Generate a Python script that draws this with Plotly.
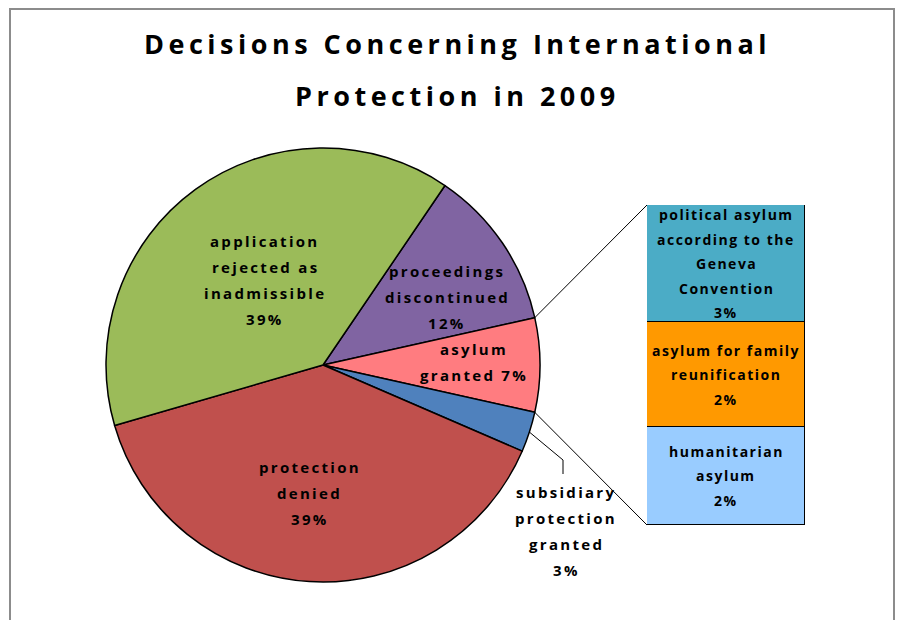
import math
import plotly.graph_objects as go

W, H = 906, 620

# ---------------- data ----------------
title_lines = ["Decisions Concerning International", "Protection in 2009"]

pie_labels = ["proceedings discontinued", "asylum granted", "subsidiary protection granted",
              "protection denied", "application rejected as inadmissible"]
pie_values = [12, 7, 3, 39, 39]
pie_text = [["proceedings", "discontinued", "12%"],
            ["asylum", "granted 7%"],
            ["subsidiary", "protection", "granted", "3%"],
            ["protection", "denied", "39%"],
            ["application", "rejected as", "inadmissible", "39%"]]
pie_colors = ["#8064A2", "#FF7C80", "#4F81BD", "#C0504D", "#9BBB59"]
split_index = 1  # the pie slice broken out into the bar

bar_labels = ["humanitarian asylum", "asylum for family reunification",
              "political asylum according to the Geneva Convention"]
bar_values = [2.15, 2.28, 2.57]
bar_text = [["humanitarian", "asylum", "2%"],
            ["asylum for family", "reunification", "2%"],
            ["political asylum", "according to the", "Geneva", "Convention", "3%"]]
bar_colors = ["#99CCFF", "#FF9900", "#4BACC6"]

# ---------------- layout geometry (pixels in the screenshot) ----------------
OFF = 8  # page body margin
cx, cy, R = 323, 365, 217
bar_l, bar_r, bar_t, bar_b = 647, 805, 205, 525
# label anchors inside pie: (standard angle deg, fraction of radius)
label_polar = {0: (28.7, 0.652), 1: (1.1, 0.696), 3: (264.2, 0.593), 4: (124.3, 0.474)}
outside_label = {2: (566, 531)}
leader_elbow = (563, 460)
leader_end_y = 474

FONT = "Open Sans"


def px(x, y):
    return (x - OFF) / W, 1 - (y - OFF) / H


total = sum(pie_values)
before = sum(pie_values[:split_index])
rotation = 90 - (before + pie_values[split_index] / 2) / total * 360


def slice_start(i):
    return rotation + sum(pie_values[:i]) / total * 360


def edge_point(theta_deg, frac=1.0):
    t = math.radians(theta_deg)
    return cx + frac * R * math.sin(t), cy - frac * R * math.cos(t)


fig = go.Figure()

dx0, dy0 = px(cx - R, cy + R)
dx1, dy1 = px(cx + R, cy - R)
fig.add_trace(go.Pie(
    labels=pie_labels, values=pie_values, sort=False, direction="clockwise",
    rotation=rotation, textinfo="none", hoverinfo="label+percent",
    marker=dict(colors=pie_colors, line=dict(color="black", width=1.5)),
    domain=dict(x=[dx0, dx1], y=[dy0, dy1]),
    showlegend=False,
))

for v, c, lab in zip(bar_values, bar_colors, bar_labels):
    fig.add_trace(go.Bar(
        x=[0], y=[v], width=1, name=lab, marker=dict(color=c, line=dict(color="black", width=1.5)),
        showlegend=False, hoverinfo="name",
    ))

annotations = []


def add_lines(x, y, xref, yref, lines, size, gap, spacing):
    n = len(lines)
    for i, ln in enumerate(lines):
        annotations.append(dict(
            x=x, y=y, xref=xref, yref=yref,
            text=f'<span style="letter-spacing:{spacing}px">{ln}</span>', showarrow=False,
            xanchor="center", yanchor="middle", yshift=-(i - (n - 1) / 2) * gap,
            font=dict(family=FONT, size=size, color="black", weight="bold"),
        ))


# title
tx, ty = px(457, 70)
add_lines(tx, ty, "paper", "paper", title_lines, 27, 52, 4.5)

# pie labels
for i, lines in enumerate(pie_text):
    if i in label_polar:
        a, f = label_polar[i]
        x = cx + f * R * math.cos(math.radians(a))
        y = cy - f * R * math.sin(math.radians(a))
    else:
        x, y = outside_label[i]
    lx, ly = px(x, y)
    add_lines(lx, ly, "paper", "paper", lines, 15, 26.3, 2.3)

# bar labels
cum = 0
for v, lines in zip(bar_values, bar_text):
    add_lines(0, cum + v / 2, "x", "y", lines, 14, 24.6, 1.5)
    cum += v

shapes = []
# connector lines from split slice to bar
t1 = slice_start(split_index)
t2 = slice_start(split_index + 1)
p1 = edge_point(t1)
p2 = edge_point(t2)
for (x0, y0), (x1, y1) in [(p1, (bar_l, bar_t)), (p2, (bar_l, bar_b))]:
    a0, b0 = px(x0, y0)
    a1, b1 = px(x1, y1)
    shapes.append(dict(type="line", xref="paper", yref="paper", x0=a0, y0=b0, x1=a1, y1=b1,
                       line=dict(color="black", width=1)))

# leader line for outside label
for i in outside_label:
    tm = (slice_start(i) + slice_start(i + 1)) / 2
    ex, ey = edge_point(tm)
    pts = [(ex, ey), leader_elbow, (leader_elbow[0], leader_end_y)]
    path = "M " + " L ".join(f"{px(x, y)[0]},{px(x, y)[1]}" for x, y in pts)
    shapes.append(dict(type="path", xref="paper", yref="paper", path=path,
                       line=dict(color="black", width=1)))

# chart frame (bottom edge lies below the visible area)
fx0, fy0 = px(10, 640)
fx1, fy1 = px(894, 9)
shapes.append(dict(type="rect", xref="paper", yref="paper", x0=fx0, y0=fy0, x1=fx1, y1=fy1,
                   line=dict(color="#8c8c8c", width=2), layer="below"))

bx0, by0 = px(bar_l, bar_b)
bx1, by1 = px(bar_r, bar_t)
fig.update_layout(
    width=W, height=H, margin=dict(l=0, r=0, t=0, b=0),
    paper_bgcolor="white", plot_bgcolor="white",
    barmode="stack", bargap=0,
    xaxis=dict(domain=[bx0, bx1], range=[-0.5, 0.5], visible=False, fixedrange=True),
    yaxis=dict(domain=[by0, by1], range=[0, sum(bar_values)], visible=False, fixedrange=True),
    annotations=annotations, shapes=shapes,
)

fig.write_html("out.html")
